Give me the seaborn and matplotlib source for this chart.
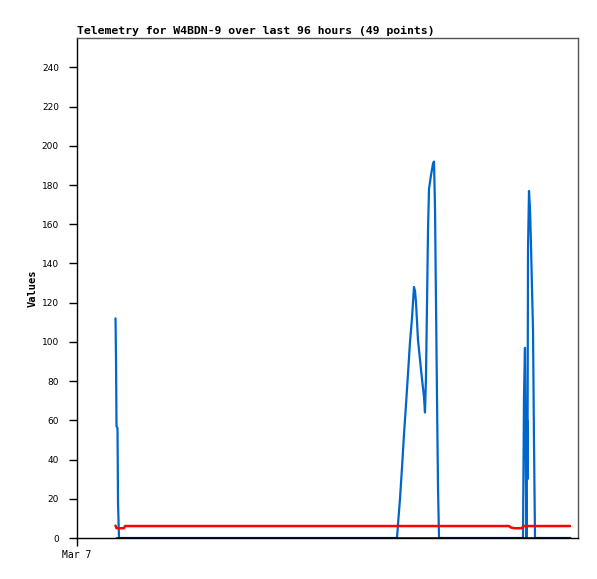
import matplotlib

matplotlib.use('Agg')

import matplotlib.pyplot as plt
import seaborn as sns

# hours since Mar 7 00:00
blue_x = [7.38, 7.47, 7.57, 7.76, 7.86, 8.05, 61.32, 61.51, 61.89, 62.28, 62.66, 63.04,
          63.43, 63.81, 64.19, 64.57, 64.77, 64.96, 65.34, 65.72, 66.11, 66.49, 66.68,
          66.87, 67.07, 67.26, 67.45, 67.83, 68.22, 68.41, 68.60, 68.79, 68.98, 69.18,
          69.37, 85.46, 85.65, 85.84, 86.04, 86.13, 86.23, 86.32, 86.42, 86.61, 86.80,
          86.99, 87.18, 87.38, 87.57, 87.76, 94.47]
blue_y = [112, 93, 57, 56, 18, 0, 0, 7, 20, 36, 53, 68,
          84, 100, 112, 128, 126, 120, 101, 91, 81, 72, 64,
          82, 120, 157, 178, 185, 191, 192, 168, 120, 72, 25,
          0, 0, 72, 97, 25, 0, 60, 30, 147, 177, 168,
          150, 128, 106, 48, 0, 0]

red_x = [7.38, 7.57, 9.0, 9.2, 82.8, 83.0, 83.2, 83.8, 85.3, 85.5, 94.47]
red_y = [6.3, 5.0, 5.0, 6.1, 6.1, 5.6, 5.3, 5.0, 5.0, 6.1, 6.1]

black_x = [7.38, 94.47]
black_y = [0, 0]

title = "Telemetry for W4BDN-9 over last 96 hours (49 points)"
x_ticks = [0]
x_labels = ["Mar 7"]
y_ticks = list(range(0, 241, 20))

sns.set_style("white", {"xtick.bottom": True, "ytick.left": True,
                        "text.color": "black", "xtick.color": "black",
                        "ytick.color": "black", "axes.labelcolor": "black"})

fig = plt.figure(figsize=(5.97, 5.79), dpi=100)
ax = fig.add_axes([77 / 597, 1 - 538 / 579, 501 / 597, 500 / 579])

sns.lineplot(x=blue_x, y=blue_y, color="#0066cc", linewidth=1.6, estimator=None, sort=False, ax=ax)
sns.lineplot(x=red_x, y=red_y, color="#ff0000", linewidth=1.8, estimator=None, sort=False, ax=ax)
sns.lineplot(x=black_x, y=black_y, color="black", linewidth=1.8, estimator=None, sort=False, ax=ax)

ax.set_xlim(0, 96)
ax.set_ylim(0, 255)
ax.set_xticks(x_ticks)
ax.set_xticklabels(x_labels, family="DejaVu Sans Mono", fontsize=7)
ax.set_yticks(y_ticks)
ax.set_yticklabels([str(v) for v in y_ticks], fontsize=6.5)
ax.tick_params(direction="out", length=6, width=1, color="black",
               bottom=True, left=True, labelcolor="black")
ax.tick_params(axis="x", pad=3)
ax.tick_params(axis="y", pad=7)

for s in ["left", "bottom"]:
    ax.spines[s].set_color("black")
for s in ["top", "right"]:
    ax.spines[s].set_color("#555555")
for s in ax.spines.values():
    s.set_linewidth(1)

ax.set_ylabel("Values", family="DejaVu Sans Mono", fontweight="bold", fontsize=7.5,
              labelpad=3, color="black")
ax.set_xlabel("")
ax.set_title(title, family="DejaVu Sans Mono", fontweight="bold", fontsize=8.25,
             loc="left", pad=3, color="black")

fig.savefig("out.png", dpi=100)
